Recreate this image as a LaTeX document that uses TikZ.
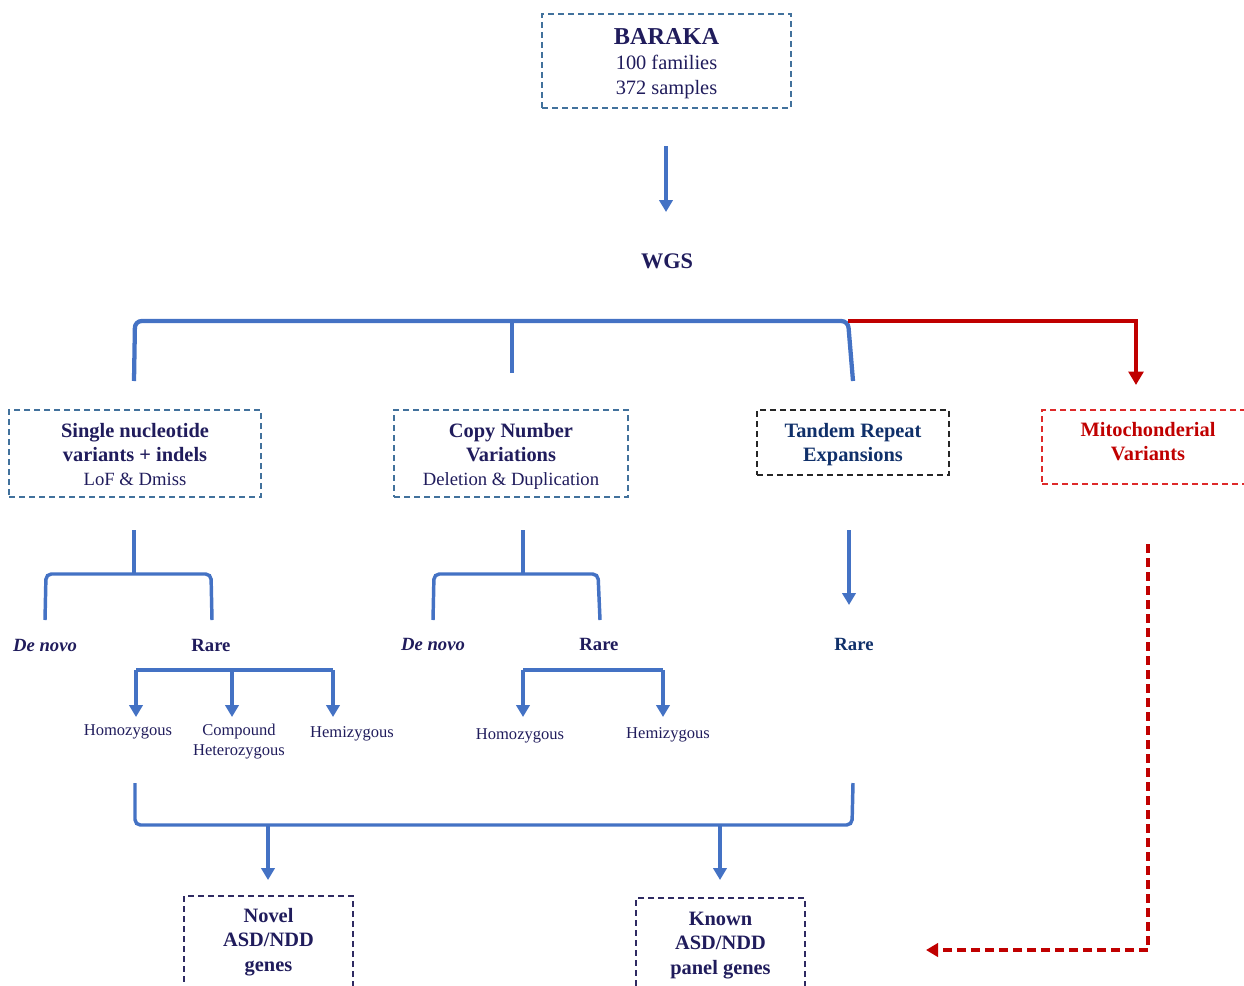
\documentclass[tikz,border=0pt]{standalone}
\usepackage{fontspec}
\setmainfont{Liberation Serif}
\usetikzlibrary{arrows.meta}
\definecolor{navy}{HTML}{201C5C}
\definecolor{dblue}{HTML}{10306A}
\definecolor{lblue}{HTML}{4472C4}
\definecolor{boxblue}{HTML}{41719C}
\definecolor{boxpurple}{HTML}{2E2A62}
\definecolor{dred}{HTML}{C00000}
\definecolor{mred}{HTML}{DE2A2A}
\begin{document}
\begin{tikzpicture}[x=0.75pt,y=-0.75pt,
  box/.style={draw, dash pattern=on 4.5pt off 3pt, line width=1.1pt, inner sep=0pt},
  btxt/.style={align=center, inner sep=0pt, font=\fontsize{15.3}{18}\selectfont\bfseries},
  arr/.style={draw=lblue, line width=2.3pt, -{Triangle[length=9pt,width=10pt]}},
  brk/.style={draw=lblue, line width=3.2pt, rounded corners=5pt},
  sbrk/.style={draw=lblue, line width=2.6pt, rounded corners=4pt},
  lbl/.style={font=\fontsize{12.4}{15}\selectfont, text=navy, align=center},
  sub/.style={font=\fontsize{14}{18}\selectfont\bfseries, text=navy},
  subi/.style={font=\fontsize{14}{18}\selectfont\bfseries\itshape, text=navy}
]
\useasboundingbox (0,0) rectangle (1244,985);
\clip (0,0) rectangle (1244,985);

% top box
\node[box, draw=boxblue, minimum width=186.75pt, minimum height=70.5pt] (baraka) at (666.5,61) {};
\node[btxt, text=navy, font=\fontsize{15.3}{18.75}\selectfont] (barakat) at (666.5,64)
  {{\fontsize{18.2}{18.75}\selectfont\bfseries BARAKA}\\100 families\\372 samples};

\coordinate (a1) at (666,146);
\coordinate (a2) at (666,212);
\draw[arr] (a1) -- (a2);
\node[font=\fontsize{16.7}{20}\selectfont\bfseries, text=navy] (wgs) at (667,261) {WGS};

% main bracket
\coordinate (bl) at (134,381);
\coordinate (bt1) at (135,321);
\coordinate (bt2) at (848,321);
\coordinate (br) at (853,381);
\coordinate (bm1) at (512,321);
\coordinate (bm2) at (512,373);
\coordinate (rc) at (1136,321);
\coordinate (rend) at (1136,385);
\draw[brk] (bl) -- (bt1) -- (bt2) -- (br);
\draw[draw=lblue, line width=2.6pt] (bm1) -- (bm2);
\draw[draw=dred, line width=3.2pt, -{Triangle[length=10pt,width=11pt]}] (bt2) -- (rc) -- (rend);

% level boxes
\node[box, draw=boxblue, minimum width=189pt, minimum height=65.25pt] (snv) at (135,453.5) {};
\node[btxt, text=navy] (snvt) at (135,454.5)
  {Single nucleotide\\variants + indels\\{\fontsize{14}{18}\selectfont\mdseries LoF \& Dmiss}};
\node[box, draw=boxblue, minimum width=175.5pt, minimum height=65.25pt] (cnv) at (511,453.5) {};
\node[btxt, text=navy] (cnvt) at (511,456.5)
  {Copy Number\\Variations\\{\fontsize{14}{18}\selectfont\mdseries Deletion \& Duplication}};
\node[box, draw=black!85, minimum width=144pt, minimum height=48.75pt] (tre) at (853,442.5) {};
\node[btxt, text=dblue] (tret) at (853,444.5) {Tandem Repeat\\Expansions};
\node[box, draw=mred, minimum width=157.5pt, minimum height=55.5pt] (mito) at (1147,447) {};
\node[btxt, text=dred] (mitot) at (1148,442) {Mitochonderial\\Variants};

% SNV sub-bracket
\coordinate (s0) at (134,530);
\coordinate (s1) at (134,574);
\coordinate (sl) at (46,574);
\coordinate (sr) at (211,574);
\coordinate (sl2) at (45,620);
\coordinate (sr2) at (212,620);
\draw[sbrk] (s0) -- (s1);
\draw[sbrk] (sl2) -- (sl) -- (sr) -- (sr2);
\node[subi] (sdn) at (45,645) {De novo};
\node[sub] (srare) at (211,645) {Rare};

\coordinate (r0) at (136,670);
\coordinate (r1) at (232,670);
\coordinate (r2) at (333,670);
\draw[draw=lblue, line width=2.6pt] (r0) -- (r2);
\draw[arr] (r0) -- (136,717);
\draw[arr] (r1) -- (232,717);
\draw[arr] (r2) -- (333,717);
\node[lbl] (shom) at (128,732) {Homozygous};
\node[lbl] (scomp) at (239,742) {Compound\\Heterozygous};
\node[lbl] (shem) at (352,734) {Hemizygous};

% CNV sub-bracket
\coordinate (c0) at (523,530);
\coordinate (c1) at (523,574);
\coordinate (cl) at (434,574);
\coordinate (cr) at (598,574);
\coordinate (cl2) at (433,620);
\coordinate (cr2) at (600,620);
\draw[sbrk] (c0) -- (c1);
\draw[sbrk] (cl2) -- (cl) -- (cr) -- (cr2);
\node[subi] (cdn) at (433,644) {De novo};
\node[sub] (crare) at (599,644) {Rare};

\coordinate (q0) at (523,670);
\coordinate (q1) at (663,670);
\draw[draw=lblue, line width=2.6pt] (q0) -- (q1);
\draw[arr] (q0) -- (523,717);
\draw[arr] (q1) -- (663,717);
\node[lbl] (chom) at (520,736) {Homozygous};
\node[lbl] (chem) at (668,735) {Hemizygous};

% Tandem
\coordinate (t0) at (849,530);
\coordinate (t1) at (849,605);
\draw[arr] (t0) -- (t1);
\node[sub, text=dblue] (trare) at (854,644) {Rare};

% bottom bracket
\coordinate (u1) at (135,783);
\coordinate (u2) at (135,825);
\coordinate (u3) at (852,825);
\coordinate (u4) at (853,783);
\draw[sbrk] (u1) -- (u2) -- (u3) -- (u4);
\coordinate (n0) at (268,825);
\coordinate (n1) at (268,880);
\coordinate (k0) at (720,825);
\coordinate (k1) at (720,880);
\draw[arr] (n0) -- (n1);
\draw[arr] (k0) -- (k1);

\node[box, draw=boxpurple, minimum width=126.75pt, minimum height=69pt] (novel) at (268.5,942) {};
\node[btxt, text=navy, font=\fontsize{15.3}{18.5}\selectfont\bfseries] (novelt) at (268.5,942)
  {Novel\\ASD/NDD\\genes};
\node[box, draw=boxpurple, minimum width=126.75pt, minimum height=67.5pt] (known) at (720.5,943) {};
\node[btxt, text=navy, font=\fontsize{15.3}{18.5}\selectfont\bfseries] (knownt) at (720.5,945.5)
  {Known\\ASD/NDD\\panel genes};

% mito dashed arrow
\coordinate (m0) at (1148,544);
\coordinate (m1) at (1148,950);
\coordinate (m2) at (926,950);
\draw[draw=dred, line width=2.6pt, dash pattern=on 7pt off 3.5pt,
      -{Triangle[length=9pt,width=10pt]}] (m0) -- (m1) -- (m2);
\end{tikzpicture}
\end{document}
